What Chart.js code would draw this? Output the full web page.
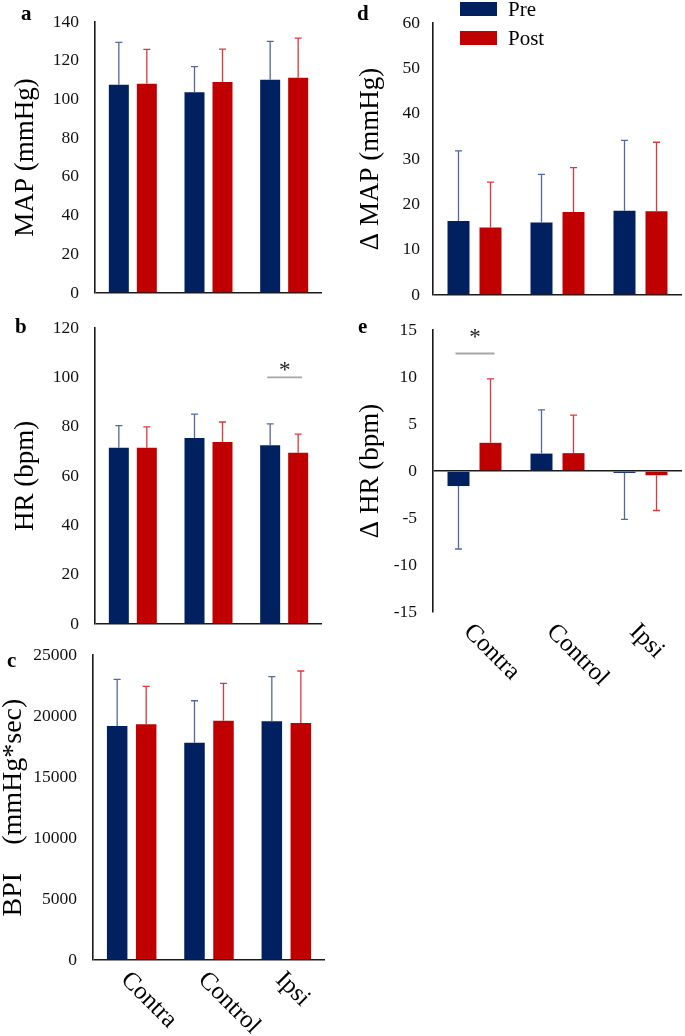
<!DOCTYPE html>
<html>
<head>
<meta charset="utf-8">
<script src="https://cdn.jsdelivr.net/npm/chart.js@4.4.0/dist/chart.umd.min.js"></script>
<style>
  body { margin: 0; background: #fff; }
  #page { position: relative; width: 685px; height: 1036px; overflow: hidden; }
  canvas { position: absolute; }
</style>
</head>
<body>
<div id="page">
  <canvas id="panel-a" width="340" height="300" style="left:0;top:0"></canvas>
  <canvas id="panel-b" width="340" height="325" style="left:0;top:305px"></canvas>
  <canvas id="panel-c" width="340" height="404" style="left:0;top:632px"></canvas>
  <canvas id="panel-d" width="340" height="300" style="left:345px;top:0"></canvas>
  <canvas id="panel-e" width="340" height="400" style="left:345px;top:305px"></canvas>
</div>
<script>
// groups and series
const categories = ['Contra', 'Control', 'Ipsi'];
const seriesNames = ['Pre', 'Post'];

const mapPre = [107.6, 103.7, 110.2];
const mapPreSd = [21.9, 13.2, 19.8];
const mapPost = [108.1, 109.0, 111.2];
const mapPostSd = [17.8, 17.0, 20.5];

const hrPre = [71.5, 75.4, 72.5];
const hrPreSd = [8.9, 9.7, 8.6];
const hrPost = [71.5, 73.8, 69.4];
const hrPostSd = [8.4, 8.1, 7.6];

const bpiPre = [19180, 17810, 19570];
const bpiPreSd = [3830, 3440, 3650];
const bpiPost = [19320, 19610, 19430];
const bpiPostSd = [3110, 3070, 4260];

const dMapPre = [16.3, 16.0, 18.6];
const dMapPreSd = [15.5, 10.6, 15.5];
const dMapPost = [14.9, 18.3, 18.5];
const dMapPostSd = [10.0, 9.8, 15.2];

const dHrPre = [-1.6, 1.85, -0.2];
const dHrPreSd = [6.7, 4.65, 4.95];
const dHrPost = [3.0, 1.9, -0.45];
const dHrPostSd = [6.8, 4.05, 3.75];

// significance marks: group index, bar level, star level
const hrSig = { index: 2, line: 100, star: 104.7 };
const dHrSig = { index: 0, line: 12.5, star: 14.7 };

const SERIF = "'Liberation Serif', 'Times New Roman', serif";
const preColor = '#002060';
const postColor = '#C00000';
const preErr = '#56679f';
const postErr = '#e0363c';

Chart.defaults.font.family = SERIF;
Chart.defaults.color = '#000';

// vertical SD whiskers, same direction as the bar
const errorBars = {
  id: 'errorBars',
  afterDatasetsDraw(chart) {
    const ctx = chart.ctx;
    const y = chart.scales.y;
    chart.data.datasets.forEach((ds, i) => {
      chart.getDatasetMeta(i).data.forEach((bar, j) => {
        const v = ds.data[j];
        const end = v < 0 ? v - ds.sd[j] : v + ds.sd[j];
        const y0 = y.getPixelForValue(v);
        const y1 = y.getPixelForValue(end);
        ctx.save();
        ctx.strokeStyle = ds.errColor;
        ctx.lineWidth = 1.3;
        ctx.beginPath();
        ctx.moveTo(bar.x, y0);
        ctx.lineTo(bar.x, y1);
        ctx.moveTo(bar.x - 3.5, y1);
        ctx.lineTo(bar.x + 3.5, y1);
        ctx.stroke();
        ctx.restore();
      });
    });
  }
};

function sigPlugin(sig) {
  return {
    id: 'sig',
    afterDatasetsDraw(chart) {
      const ctx = chart.ctx;
      const y = chart.scales.y;
      const a = chart.getDatasetMeta(0).data[sig.index];
      const b = chart.getDatasetMeta(1).data[sig.index];
      const x0 = a.x - 3, x1 = b.x + 4;
      const yl = y.getPixelForValue(sig.line);
      ctx.save();
      ctx.strokeStyle = '#a6a6a6';
      ctx.lineWidth = 1.8;
      ctx.beginPath();
      ctx.moveTo(x0, yl);
      ctx.lineTo(x1, yl);
      ctx.stroke();
      ctx.fillStyle = '#222';
      ctx.font = '23px ' + SERIF;
      ctx.textAlign = 'center';
      ctx.textBaseline = 'alphabetic';
      ctx.fillText('*', (x0 + x1) / 2, y.getPixelForValue(sig.star) + 11);
      ctx.restore();
    }
  };
}

function letterPlugin(letter, lx, ly) {
  return {
    id: 'letter',
    afterDraw(chart) {
      const ctx = chart.ctx;
      ctx.save();
      ctx.fillStyle = '#000';
      ctx.font = 'bold 21px ' + SERIF;
      ctx.textAlign = 'left';
      ctx.textBaseline = 'alphabetic';
      ctx.fillText(letter, lx, ly);
      ctx.restore();
    }
  };
}

// slanted group names under the plot
const slantLabels = {
  id: 'slantLabels',
  afterDraw(chart) {
    const ctx = chart.ctx;
    const x = chart.scales.x;
    const base = chart.chartArea.bottom;
    ctx.save();
    ctx.fillStyle = '#000';
    ctx.font = '25px ' + SERIF;
    ctx.textAlign = 'left';
    ctx.textBaseline = 'middle';
    chart.data.labels.forEach((lab, i) => {
      ctx.save();
      ctx.translate(x.getPixelForValue(i) - 7, base + 16);
      ctx.rotate(Math.PI / 4);
      ctx.fillText(lab, 0, 0);
      ctx.restore();
    });
    ctx.restore();
  }
};

const legendBoxes = {
  id: 'legendBoxes',
  afterDraw(chart) {
    const ctx = chart.ctx;
    ctx.save();
    ctx.font = '21px ' + SERIF;
    ctx.textBaseline = 'alphabetic';
    chart.data.datasets.forEach((ds, i) => {
      const top = i === 0 ? 2 : 31;
      ctx.fillStyle = ds.backgroundColor;
      ctx.fillRect(115, top, 37, 14);
      ctx.fillStyle = '#000';
      ctx.fillText(ds.label, 163, top + 14);
    });
    ctx.restore();
  }
};

function makePanel(id, p) {
  const plugins = [errorBars, letterPlugin(p.letter, p.lx, p.ly)];
  if (p.sig) plugins.push(sigPlugin(p.sig));
  if (p.slant) plugins.push(slantLabels);
  if (p.legend) plugins.push(legendBoxes);

  new Chart(document.getElementById(id), {
    type: 'bar',
    data: {
      labels: categories,
      datasets: [
        { label: seriesNames[0], data: p.pre, sd: p.preSd, errColor: preErr,
          backgroundColor: preColor, barPercentage: p.barPct, categoryPercentage: p.catPct },
        { label: seriesNames[1], data: p.post, sd: p.postSd, errColor: postErr,
          backgroundColor: postColor, barPercentage: p.barPct, categoryPercentage: p.catPct }
      ]
    },
    options: {
      responsive: false,
      animation: false,
      devicePixelRatio: 1,
      layout: { padding: { left: 0, top: p.padTop, right: p.padRight, bottom: 0 } },
      plugins: { legend: { display: false }, tooltip: { enabled: false } },
      scales: {
        x: {
          grid: { display: false },
          border: { display: false },
          ticks: { display: false },
          afterFit(scale) { scale.height = p.xHeight; }
        },
        y: {
          min: p.min,
          max: p.max,
          border: { display: true, color: '#1a1a1a', width: 1.6 },
          grid: {
            drawTicks: false,
            lineWidth: 1.6,
            color: c => (c.tick && c.tick.value === 0 ? '#1a1a1a' : 'rgba(0,0,0,0)')
          },
          ticks: {
            stepSize: p.step,
            padding: p.tickPad,
            font: { size: 17.5 },
            color: '#111',
            callback: v => String(v)
          },
          title: {
            display: true,
            text: p.title,
            font: { size: p.titleSize, lineHeight: p.titleLh },
            padding: { top: p.titlePad, bottom: 0 },
            color: '#000'
          },
          afterFit(scale) {
            scale.width = p.yWidth;
            // keep the plot box where the layout padding puts it
            scale.paddingTop = 0;
            scale.paddingBottom = 0;
          }
        }
      }
    },
    plugins: plugins
  });
}

makePanel('panel-a', {
  letter: 'a', lx: 21, ly: 20,
  pre: mapPre, preSd: mapPreSd, post: mapPost, postSd: mapPostSd,
  min: 0, max: 140, step: 20, title: 'MAP (mmHg)',
  titleSize: 27, titleLh: 1.2, titlePad: 10, tickPad: 16,
  yWidth: 95, padTop: 22, padRight: 18, xHeight: 7,
  barPct: 0.714, catPct: 0.74
});

makePanel('panel-b', {
  letter: 'b', lx: 15, ly: 28,
  pre: hrPre, preSd: hrPreSd, post: hrPost, postSd: hrPostSd,
  min: 0, max: 120, step: 20, title: 'HR (bpm)',
  titleSize: 27, titleLh: 1.2, titlePad: 10, tickPad: 16,
  yWidth: 95, padTop: 23, padRight: 18, xHeight: 6,
  barPct: 0.714, catPct: 0.74, sig: hrSig
});

makePanel('panel-c', {
  letter: 'c', lx: 7, ly: 35,
  pre: bpiPre, preSd: bpiPreSd, post: bpiPost, postSd: bpiPostSd,
  min: 0, max: 25000, step: 5000, title: 'BPI    (mmHg*sec)',
  titleSize: 28, titleLh: 1, titlePad: 0, tickPad: 16,
  yWidth: 93, padTop: 23, padRight: 15, xHeight: 76,
  barPct: 0.707, catPct: 0.75, slant: true
});

makePanel('panel-d', {
  letter: 'd', lx: 12, ly: 20,
  pre: dMapPre, preSd: dMapPreSd, post: dMapPost, postSd: dMapPostSd,
  min: 0, max: 60, step: 10, title: '\u0394 MAP (mmHg)',
  titleSize: 27, titleLh: 1.2, titlePad: 10, tickPad: 13,
  yWidth: 88, padTop: 23, padRight: 3, xHeight: 5,
  barPct: 0.6875, catPct: 0.771, legend: true
});

makePanel('panel-e', {
  letter: 'e', lx: 13, ly: 28,
  pre: dHrPre, preSd: dHrPreSd, post: dHrPost, postSd: dHrPostSd,
  min: -15, max: 15, step: 5, title: '\u0394 HR (bpm)',
  titleSize: 27, titleLh: 1.2, titlePad: 10, tickPad: 16,
  yWidth: 88, padTop: 25, padRight: 3, xHeight: 93,
  barPct: 0.6875, catPct: 0.771, sig: dHrSig, slant: true
});
</script>
</body>
</html>
